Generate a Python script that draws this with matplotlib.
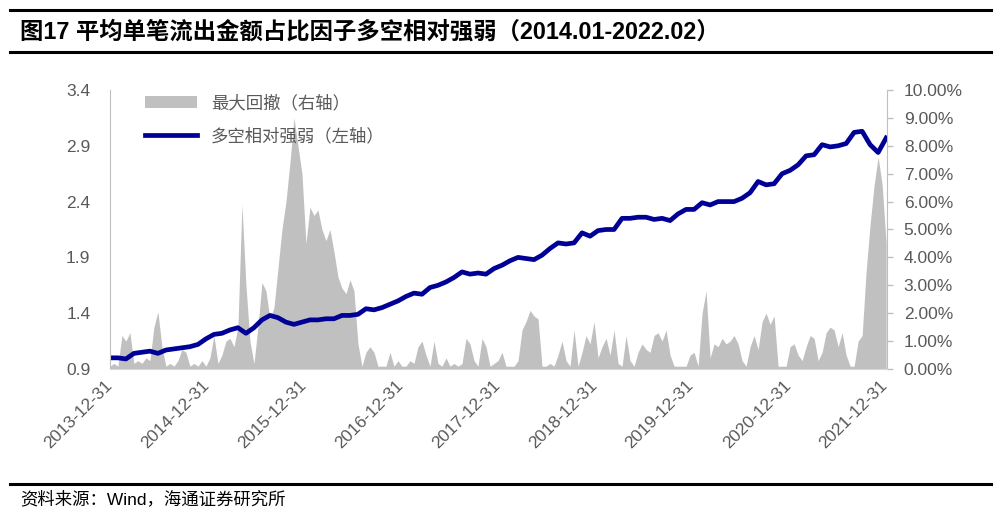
import numpy as np
import matplotlib
matplotlib.use("Agg")
import matplotlib.pyplot as plt
from matplotlib.ticker import FuncFormatter
from matplotlib.patches import Patch
from matplotlib.lines import Line2D

plt.rcParams['font.family'] = ['Liberation Sans', 'Noto Sans CJK SC', 'DejaVu Sans']

title = "图17 平均单笔流出金额占比因子多空相对强弱（2014.01-2022.02）"
source = "资料来源：Wind，海通证券研究所"
dd_label = "最大回撤（右轴）"
ls_label = "多空相对强弱（左轴）"
year_labels = ["2013-12-31", "2014-12-31", "2015-12-31", "2016-12-31", "2017-12-31",
               "2018-12-31", "2019-12-31", "2020-12-31", "2021-12-31"]

# long-short relative strength (left axis), 2014.01 -> 2022.02
long_short = [
    1.00, 1.00, 0.99, 1.04, 1.05, 1.06, 1.04, 1.07, 1.08, 1.09,
    1.10, 1.12, 1.17, 1.21, 1.22, 1.25, 1.27, 1.22, 1.27, 1.34,
    1.38, 1.36, 1.32, 1.30, 1.32, 1.34, 1.34, 1.35, 1.35, 1.38,
    1.38, 1.39, 1.44, 1.43, 1.45, 1.48, 1.51, 1.55, 1.58, 1.57,
    1.63, 1.65, 1.68, 1.72, 1.77, 1.75, 1.76, 1.75, 1.80, 1.83,
    1.87, 1.90, 1.89, 1.88, 1.92, 1.98, 2.03, 2.02, 2.03, 2.12,
    2.09, 2.14, 2.15, 2.15, 2.25, 2.25, 2.26, 2.26, 2.24, 2.25,
    2.23, 2.29, 2.33, 2.33, 2.39, 2.37, 2.40, 2.40, 2.40, 2.43,
    2.48, 2.58, 2.55, 2.56, 2.65, 2.68, 2.73, 2.81, 2.82, 2.91,
    2.89, 2.90, 2.92, 3.02, 3.03, 2.91, 2.84, 2.97,
]

# max drawdown in % (right axis)
drawdown = [
    0.1, 0.2, 0.1, 1.2, 1.0, 1.3, 0.2, 0.3, 0.2, 0.4,
    0.3, 1.5, 2.05, 0.8, 0.1, 0.2, 0.1, 0.3, 0.7, 0.6,
    0.1, 0.2, 0.1, 0.3, 0.1, 0.4, 1.2, 0.2, 0.5, 1.0,
    1.1, 0.8, 1.5, 5.9, 3.0, 1.0, 0.2, 1.5, 3.1, 2.8,
    1.8, 2.2, 3.6, 5.0, 6.0, 7.4, 9.0, 8.0, 7.0, 4.5,
    5.8, 5.5, 5.7, 5.0, 4.6, 5.0, 4.2, 3.3, 2.9, 2.7,
    3.2, 2.8, 0.9, 0.1, 0.6, 0.8, 0.6, 0.1, 0.1, 0.1,
    0.6, 0.1, 0.3, 0.1, 0.1, 0.3, 0.2, 0.8, 1.0, 0.5,
    0.1, 1.0, 0.2, 0.1, 0.4, 0.1, 0.2, 0.1, 0.2, 1.1,
    0.9, 0.3, 0.1, 1.1, 0.8, 0.1, 0.2, 0.3, 0.6, 0.1,
    0.1, 0.1, 0.3, 1.4, 1.7, 2.1, 1.9, 1.8, 0.1, 0.1,
    0.2, 0.1, 0.5, 1.0, 0.3, 0.1, 1.4, 0.1, 0.6, 1.2,
    0.9, 1.7, 0.4, 0.8, 1.1, 0.5, 1.4, 0.2, 0.1, 1.2,
    0.3, 0.1, 0.6, 0.9, 0.7, 0.6, 1.2, 1.3, 1.0, 1.4,
    0.5, 0.1, 0.1, 0.1, 0.1, 0.5, 0.6, 0.1, 2.0, 2.8,
    0.4, 0.9, 0.8, 1.1, 0.9, 1.0, 1.2, 0.9, 0.3, 0.1,
    0.8, 1.2, 0.7, 1.7, 2.0, 1.6, 1.9, 0.1, 0.1, 0.1,
    0.8, 0.9, 0.5, 0.3, 0.8, 1.2, 1.1, 0.3, 0.6, 1.3,
    1.5, 1.4, 0.8, 1.3, 0.5, 0.1, 0.1, 1.0, 1.2, 3.5,
    5.2, 6.6, 7.6, 6.6, 4.5,
]

gray_txt = '#595959'
blue = '#000096'
area = '#C0C0C0'

fig = plt.figure(figsize=(9.99, 5.22), dpi=100)

# header / footer rules and text
fig.add_artist(Line2D([0.010, 0.992], [1 - 10 / 522] * 2, color='black', lw=2.2))
fig.add_artist(Line2D([0.010, 0.992], [1 - 52 / 522] * 2, color='black', lw=2.2))
fig.add_artist(Line2D([0.010, 0.992], [1 - 484 / 522] * 2, color='black', lw=2.2))
fig.text(0.020, 1 - 32 / 522, title, fontsize=16.8, fontweight='bold', va='center', ha='left')
fig.text(0.020, 1 - 499 / 522, source, fontsize=12.5, va='center', ha='left', color='black')

ax = fig.add_axes([0.110, 0.2931, 0.778, 0.5345])
ax2 = ax.twinx()
ax.set_zorder(ax2.get_zorder() + 1)
ax.patch.set_visible(False)

x_ls = np.linspace(0, 8.01, len(long_short))
x_dd = np.linspace(0, 8.01, len(drawdown))

ax2.fill_between(x_dd, 0, np.array(drawdown) / 100, color=area, lw=0)
ax.plot(x_ls, long_short, color=blue, lw=3.4, solid_joinstyle='round')

ax.set_xlim(0, 8.02)
ax.set_ylim(0.9, 3.4)
ax.set_yticks(np.arange(0.9, 3.41, 0.5))
ax.yaxis.set_major_formatter(FuncFormatter(lambda v, p: f"{v:.1f}"))
ax2.set_ylim(0, 0.10)
ax2.set_yticks(np.arange(0, 0.1001, 0.01))
ax2.yaxis.set_major_formatter(FuncFormatter(lambda v, p: f"{v * 100:.2f}%"))

ax.set_xticks(range(len(year_labels)))
ax.set_xticklabels(year_labels, rotation=45, ha='right', va='center', rotation_mode='anchor')

for a in (ax, ax2):
    for s in a.spines.values():
        s.set_visible(False)
ax.spines['left'].set_visible(True)
ax.spines['left'].set_color('#BFBFBF')
ax.spines['bottom'].set_visible(True)
ax.spines['bottom'].set_color('#D9D9D9')
ax2.spines['right'].set_visible(True)
ax2.spines['right'].set_color('#BFBFBF')

ax.tick_params(axis='y', length=0, pad=14, labelsize=12.5, labelcolor=gray_txt)
ax.tick_params(axis='x', length=0, pad=10, labelsize=12.5, labelcolor=gray_txt)
ax2.tick_params(axis='y', length=4, width=1, color='#BFBFBF', pad=8, labelsize=12.5, labelcolor=gray_txt)

handles = [Patch(facecolor=area, edgecolor='none'), Line2D([], [], color=blue, lw=3.4)]
leg = ax.legend(handles, [dd_label, ls_label], loc='upper left', bbox_to_anchor=(0.025, 1.04),
                frameon=False, handlelength=3.0, handleheight=0.7, labelspacing=0.85,
                prop={'family': ['Noto Sans CJK SC'], 'size': 12.5})
for t in leg.get_texts():
    t.set_color(gray_txt)

fig.savefig("out.png", dpi=100)
